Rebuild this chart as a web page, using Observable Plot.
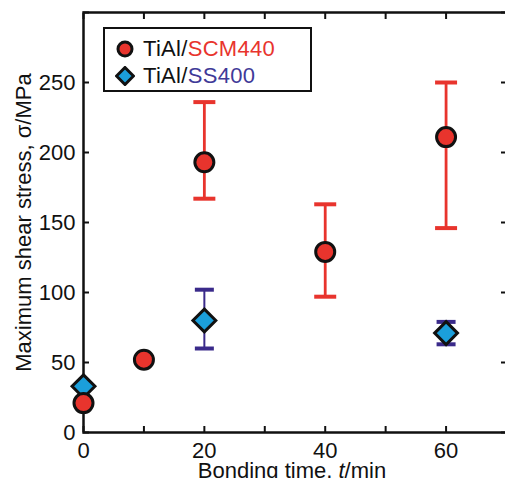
<!DOCTYPE html>
<html>
<head>
<meta charset="utf-8">
<script src="https://cdn.jsdelivr.net/npm/d3@7"></script>
<script src="https://cdn.jsdelivr.net/npm/@observablehq/plot@0.6"></script>
<style>
  html, body { margin: 0; padding: 0; background: #fff; }
  #wrap { position: relative; width: 505px; height: 478px; overflow: hidden; font-family: "Liberation Sans", Arial, sans-serif; }
  #legend { position: absolute; left: 103px; top: 27px; width: 205px; height: 61px; border: 2.5px solid #111; background: #fff; }
  .row { position: absolute; left: 0; height: 27px; display: flex; align-items: center; font-size: 22px; letter-spacing: 0.3px; color: #111; white-space: nowrap; }
  .row svg { margin-left: 10px; margin-right: 8px; }
</style>
</head>
<body>
<div id="wrap"></div>
<script>
// ---- data ----
const scmTime   = [0, 10, 20, 40, 60];
const scmStress = [21, 52, 193, 129, 211];
const scmLow    = [null, null, 167, 97, 146];
const scmHigh   = [null, null, 236, 163, 250];

const ssTime    = [0, 20, 60];
const ssStress  = [33, 80, 71];
const ssLow     = [null, 60, 63];
const ssHigh    = [null, 102, 79];

const xTicks = [0, 10, 20, 30, 40, 50, 60, 70];
const xLabels = [0, 20, 40, 60];
const yTicks = [0, 50, 100, 150, 200, 250, 300];
const yLabels = [0, 50, 100, 150, 200, 250];

const seriesNames = ["SCM440", "SS400"];
const red = "#e8342d", indigo = "#3a2a8a", cyan = "#1b9fdb", ssText = "#3f3a98";

const scm = scmTime.map((t, i) => ({t, s: scmStress[i], lo: scmLow[i], hi: scmHigh[i]}));
const ss  = ssTime.map((t, i) => ({t, s: ssStress[i], lo: ssLow[i], hi: ssHigh[i]}));
const scmErr = scm.filter(d => d.lo != null);
const ssErr  = ss.filter(d => d.lo != null);

// horizontal cap symbols for error bars
const capSymbol = half => ({ draw(ctx) { ctx.moveTo(-half, 0); ctx.lineTo(half, 0); } });

const font = "Liberation Sans, Arial, sans-serif";

const chart = Plot.plot({
  width: 505,
  height: 478,
  marginLeft: 83,
  marginTop: 12,
  marginBottom: 46,
  marginRight: -1,
  style: { fontFamily: font, fontSize: "22px", color: "#111", background: "#fff", overflow: "visible" },
  x: { domain: [0, 70] },
  y: { domain: [0, 300] },
  marks: [
    // inward ticks on all sides
    Plot.axisX(xTicks, { anchor: "bottom", tickSize: -6, tickFormat: () => "", label: null, strokeWidth: 2 }),
    Plot.axisX(xTicks, { anchor: "top", tickSize: -6, tickFormat: () => "", label: null, strokeWidth: 2 }),
    Plot.axisY(yTicks, { anchor: "left", tickSize: -6, tickFormat: () => "", label: null, strokeWidth: 2 }),
    Plot.axisY(yTicks, { anchor: "right", tickSize: -6, tickFormat: () => "", label: null, strokeWidth: 2 }),
    // tick labels
    Plot.axisX(xLabels, { anchor: "bottom", tickSize: 0, tickPadding: 10, label: null, fontSize: 22, lineAnchor: "top" }),
    Plot.axisY(yLabels, { anchor: "left", tickSize: 0, tickPadding: 8, label: null, fontSize: 22 }),
    Plot.frame({ stroke: "#111", strokeWidth: 2.5 }),
    // axis titles
    Plot.text(["Maximum shear stress, σ/MPa"], { frameAnchor: "left", rotate: -90, dx: -53, lineAnchor: "bottom", fontSize: 22, textAnchor: "middle", fill: "#111" }),
    Plot.text(["Bonding time, t/min"], { frameAnchor: "bottom", dy: 45, dx: -3, lineAnchor: "bottom", fontSize: 22, textAnchor: "middle", fill: "#111", className: "xtitle" }),
    // error bars
    Plot.ruleX(scmErr, { x: "t", y1: "lo", y2: "hi", stroke: red, strokeWidth: 2.8 }),
    Plot.dot(scmErr, { x: "t", y: "lo", symbol: capSymbol(11), stroke: red, strokeWidth: 4, r: 5 }),
    Plot.dot(scmErr, { x: "t", y: "hi", symbol: capSymbol(11), stroke: red, strokeWidth: 4, r: 5 }),
    Plot.ruleX(ssErr, { x: "t", y1: "lo", y2: "hi", stroke: indigo, strokeWidth: 2 }),
    Plot.dot(ssErr, { x: "t", y: "lo", symbol: capSymbol(9.5), stroke: indigo, strokeWidth: 4, r: 5 }),
    Plot.dot(ssErr, { x: "t", y: "hi", symbol: capSymbol(9.5), stroke: indigo, strokeWidth: 4, r: 5 }),
    // markers
    Plot.dot(ss, { x: "t", y: "s", symbol: "diamond2", r: 10.3, fill: cyan, stroke: "#111", strokeWidth: 3 }),
    Plot.dot(scm, { x: "t", y: "s", symbol: "circle", r: 9.5, fill: red, stroke: "#111", strokeWidth: 3 })
  ]
});

// italic t in x title
const xt = chart.querySelector(".xtitle text");
if (xt) {
  xt.textContent = "";
  const parts = [["Bonding time, ", null], ["t", "italic"], ["/min", null]];
  for (const [s, st] of parts) {
    const ts = document.createElementNS("http://www.w3.org/2000/svg", "tspan");
    ts.textContent = s;
    if (st) ts.setAttribute("font-style", st);
    xt.appendChild(ts);
  }
}

const wrap = document.getElementById("wrap");
wrap.appendChild(chart);

// legend overlay
const legend = document.createElement("div");
legend.id = "legend";
legend.innerHTML = `
  <div class="row" style="top:6px">
    <svg width="20" height="20" viewBox="-10 -10 20 20"><circle r="7" fill="${red}" stroke="#111" stroke-width="3"/></svg>
    <span>TiAl/<span style="color:${red}">${seriesNames[0]}</span></span>
  </div>
  <div class="row" style="top:33px">
    <svg width="20" height="20" viewBox="-10 -10 20 20"><path d="M0,-8.5L8.5,0L0,8.5L-8.5,0Z" fill="${cyan}" stroke="#111" stroke-width="3"/></svg>
    <span>TiAl/<span style="color:${ssText}">${seriesNames[1]}</span></span>
  </div>`;
wrap.appendChild(legend);
</script>
</body>
</html>
